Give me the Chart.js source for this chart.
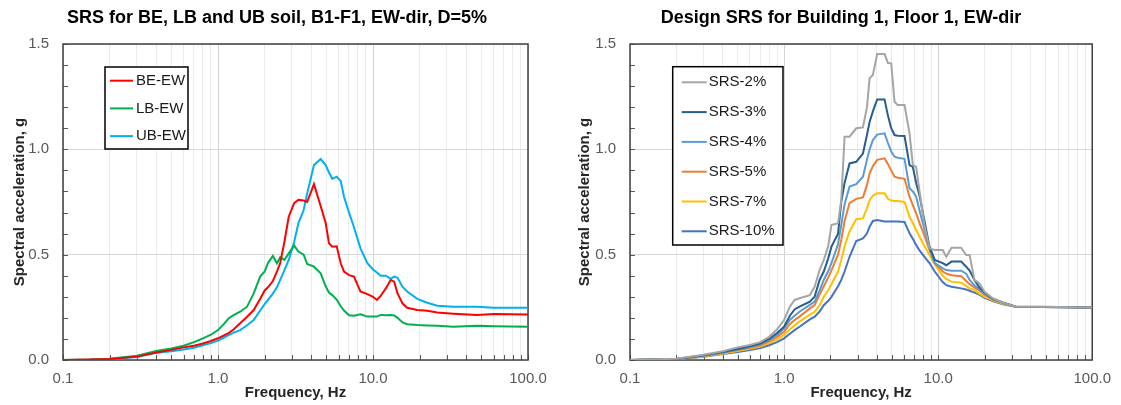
<!DOCTYPE html>
<html>
<head>
<meta charset="utf-8">
<script src="https://cdn.jsdelivr.net/npm/chart.js@4.4.1/dist/chart.umd.min.js"></script>
<style>
  html, body { margin: 0; padding: 0; background: #fff; }
  #wrap { position: relative; width: 1121px; height: 405px; }
  canvas { position: absolute; top: 0; }
  #left { left: 0; }
  #right { left: 560px; }
</style>
</head>
<body>
<div id="wrap">
  <canvas id="left" width="560" height="405"></canvas>
  <canvas id="right" width="561" height="405"></canvas>
</div>
<script>
// --- left chart: BE / LB / UB soil ---
const freqL = [0.1, 0.15, 0.2, 0.3, 0.4, 0.5, 0.6, 0.7, 0.8, 0.9, 1.0, 1.1, 1.17, 1.26, 1.39, 1.54, 1.7, 1.87, 2.0, 2.1,
  2.26, 2.4, 2.52, 2.68, 2.86, 3.1, 3.3, 3.57, 3.76, 4.16, 4.6, 4.95, 5.2, 5.46, 5.83, 6.19, 6.5, 7.0, 7.54, 8.3,
  9.2, 10, 10.6, 11.2, 12.1, 13.0, 13.7, 14.4, 15.5, 16.6, 19.3, 22.4, 26, 33, 47, 60, 100];
const beEW = [0, 0.002, 0.005, 0.016, 0.036, 0.048, 0.06, 0.068, 0.078, 0.09, 0.103, 0.118, 0.128, 0.145, 0.174, 0.205, 0.237, 0.29, 0.33, 0.345,
  0.375, 0.42, 0.46, 0.56, 0.68, 0.745, 0.76, 0.757, 0.75, 0.835, 0.73, 0.65, 0.554, 0.538, 0.54, 0.459, 0.42, 0.403, 0.396, 0.325,
  0.313, 0.30, 0.285, 0.304, 0.34, 0.38, 0.372, 0.316, 0.269, 0.248, 0.237, 0.234, 0.225, 0.22, 0.214, 0.218, 0.216];
const lbEW = [0, 0.002, 0.006, 0.02, 0.043, 0.055, 0.068, 0.085, 0.103, 0.12, 0.142, 0.174, 0.197, 0.213, 0.229, 0.253, 0.316, 0.396, 0.42, 0.46,
  0.494, 0.459, 0.488, 0.475, 0.506, 0.543, 0.515, 0.5, 0.456, 0.443, 0.411, 0.35, 0.32, 0.308, 0.287, 0.255, 0.235, 0.212, 0.21, 0.217,
  0.206, 0.206, 0.206, 0.214, 0.212, 0.214, 0.212, 0.2, 0.178, 0.17, 0.166, 0.164, 0.163, 0.158, 0.162, 0.16, 0.158];
const ubEW = [0, 0.001, 0.004, 0.014, 0.034, 0.042, 0.05, 0.058, 0.07, 0.08, 0.092, 0.108, 0.118, 0.13, 0.142, 0.165, 0.19, 0.235, 0.265, 0.285,
  0.315, 0.345, 0.38, 0.425, 0.475, 0.56, 0.649, 0.712, 0.79, 0.925, 0.954, 0.925, 0.89, 0.86, 0.87, 0.85, 0.775, 0.7, 0.63, 0.53,
  0.46, 0.43, 0.415, 0.4, 0.4, 0.385, 0.396, 0.39, 0.348, 0.325, 0.29, 0.272, 0.258, 0.253, 0.253, 0.248, 0.248];

// --- right chart: design SRS at several damping ratios ---
const freqR = [0.1, 0.2, 0.3, 0.4, 0.5, 0.6, 0.7, 0.8, 0.9, 1.0, 1.09, 1.17, 1.26, 1.47, 1.58, 1.7, 1.81, 1.93, 2.03, 2.24,
  2.35, 2.47, 2.66, 2.94, 3.25, 3.45, 3.59, 3.77, 4.02, 4.49, 4.72, 4.96, 5.21, 5.47, 6.05, 6.52, 6.85, 7.2, 7.57, 8.15,
  8.79, 9.5, 10.7, 11.3, 12.2, 14.1, 15.2, 16.0, 17.2, 18.5, 20, 22.6, 26.3, 32, 47.5, 74.5, 100];
const srs2 = [0, 0.006, 0.025, 0.042, 0.06, 0.071, 0.085, 0.11, 0.145, 0.19, 0.253, 0.285, 0.293, 0.308, 0.348, 0.427, 0.475, 0.538, 0.641, 0.649,
  0.759, 1.06, 1.06, 1.1, 1.104, 1.2, 1.337, 1.353, 1.452, 1.452, 1.41, 1.408, 1.226, 1.21, 1.21, 1.076, 0.925, 0.917, 0.8, 0.64,
  0.53, 0.522, 0.522, 0.49, 0.533, 0.533, 0.498, 0.498, 0.38, 0.364, 0.324, 0.293, 0.272, 0.253, 0.253, 0.25, 0.248];
const srs3 = [0, 0.005, 0.022, 0.038, 0.052, 0.065, 0.078, 0.1, 0.128, 0.158, 0.21, 0.24, 0.253, 0.277, 0.301, 0.38, 0.42, 0.48, 0.538, 0.6,
  0.75, 0.84, 0.933, 0.941, 0.98, 1.068, 1.13, 1.18, 1.237, 1.237, 1.16, 1.1, 1.068, 1.065, 1.063, 0.925, 0.917, 0.84, 0.78, 0.66,
  0.538, 0.475, 0.46, 0.45, 0.467, 0.467, 0.443, 0.425, 0.38, 0.345, 0.32, 0.29, 0.273, 0.253, 0.252, 0.25, 0.248];
const srs4 = [0, 0.005, 0.02, 0.036, 0.05, 0.062, 0.075, 0.095, 0.12, 0.149, 0.19, 0.21, 0.229, 0.262, 0.277, 0.33, 0.38, 0.42, 0.46, 0.55,
  0.64, 0.74, 0.823, 0.835, 0.87, 0.95, 1.0, 1.044, 1.07, 1.076, 1.03, 0.99, 0.965, 0.96, 0.955, 0.815, 0.8, 0.775, 0.71, 0.62,
  0.53, 0.46, 0.435, 0.427, 0.424, 0.424, 0.41, 0.38, 0.355, 0.335, 0.315, 0.29, 0.272, 0.253, 0.252, 0.25, 0.248];
const srs5 = [0, 0.005, 0.019, 0.034, 0.047, 0.058, 0.07, 0.088, 0.11, 0.134, 0.17, 0.19, 0.206, 0.245, 0.261, 0.31, 0.35, 0.39, 0.425, 0.5,
  0.57, 0.66, 0.745, 0.765, 0.772, 0.83, 0.886, 0.92, 0.95, 0.957, 0.93, 0.9, 0.87, 0.865, 0.86, 0.775, 0.735, 0.696, 0.65, 0.59,
  0.522, 0.46, 0.42, 0.41, 0.402, 0.398, 0.375, 0.36, 0.345, 0.33, 0.31, 0.288, 0.27, 0.253, 0.252, 0.25, 0.248];
const srs7 = [0, 0.004, 0.017, 0.031, 0.043, 0.053, 0.064, 0.08, 0.098, 0.119, 0.145, 0.165, 0.182, 0.215, 0.229, 0.26, 0.3, 0.33, 0.36, 0.42,
  0.475, 0.54, 0.61, 0.668, 0.672, 0.72, 0.759, 0.78, 0.791, 0.791, 0.765, 0.757, 0.755, 0.755, 0.75, 0.68, 0.65, 0.617, 0.585, 0.54,
  0.498, 0.455, 0.4, 0.385, 0.372, 0.367, 0.352, 0.34, 0.333, 0.315, 0.3, 0.283, 0.267, 0.253, 0.253, 0.25, 0.248];
const srs10 = [0, 0.004, 0.015, 0.028, 0.038, 0.047, 0.057, 0.07, 0.085, 0.103, 0.125, 0.142, 0.158, 0.193, 0.206, 0.23, 0.26, 0.28, 0.3, 0.35,
  0.38, 0.42, 0.49, 0.565, 0.577, 0.6, 0.633, 0.66, 0.664, 0.657, 0.657, 0.657, 0.657, 0.657, 0.655, 0.601, 0.575, 0.546, 0.52, 0.49,
  0.46, 0.42, 0.37, 0.355, 0.348, 0.34, 0.335, 0.329, 0.32, 0.31, 0.295, 0.28, 0.265, 0.253, 0.252, 0.25, 0.248];

// axis ticks
const xDecades = [0.1, 1, 10, 100];
const yMajor = [0, 0.5, 1.0, 1.5];

const FONT = '"Liberation Sans", Arial, sans-serif';

function pts(f, v) {
  return f.map((x, i) => ({ x: x, y: v[i] }));
}

function isDecade(v) {
  return xDecades.some(d => Math.abs(v - d) < d * 1e-6);
}

function isMajorY(v) {
  return yMajor.some(m => Math.abs(v - m) < 1e-6);
}

// border box + little inside tick marks, under the curves
const framePlugin = {
  id: 'frame',
  beforeDatasetsDraw(chart) {
    const { ctx, chartArea: a, scales } = chart;
    ctx.save();
    ctx.strokeStyle = '#595959';
    ctx.lineWidth = 1;
    ctx.beginPath();
    scales.x.ticks.forEach(t => {
      const px = Math.round(scales.x.getPixelForValue(t.value)) + 0.5;
      ctx.moveTo(px, a.bottom);
      ctx.lineTo(px, a.bottom - 5);
    });
    scales.y.ticks.forEach(t => {
      const py = Math.round(scales.y.getPixelForValue(t.value)) + 0.5;
      ctx.moveTo(a.left, py);
      ctx.lineTo(a.left + 5, py);
    });
    ctx.stroke();
    ctx.strokeStyle = '#404040';
    ctx.lineWidth = 1.5;
    ctx.strokeRect(a.left, a.top, a.right - a.left, a.bottom - a.top);
    ctx.restore();
  }
};

// boxed legend inside the plot + chart title
const boxLegend = {
  id: 'boxLegend',
  afterDraw(chart, args, o) {
    const ctx = chart.ctx, a = chart.chartArea;
    const x0 = a.left + o.dx, y0 = a.top + o.dy;
    ctx.save();
    ctx.fillStyle = '#fff';
    ctx.fillRect(x0, y0, o.w, o.h);
    ctx.strokeStyle = '#000';
    ctx.lineWidth = 1.5;
    ctx.strokeRect(x0, y0, o.w, o.h);
    ctx.font = '15px ' + FONT;
    ctx.textBaseline = 'middle';
    chart.data.datasets.forEach((ds, i) => {
      const y = y0 + o.first + i * o.gap;
      ctx.strokeStyle = ds.borderColor;
      ctx.lineWidth = ds.borderWidth;
      ctx.beginPath();
      ctx.moveTo(x0 + o.lx0, y);
      ctx.lineTo(x0 + o.lx1, y);
      ctx.stroke();
      ctx.fillStyle = '#1a1a1a';
      ctx.fillText(ds.label, x0 + o.tx, y);
    });
    // title
    ctx.font = 'bold 18px ' + FONT;
    ctx.textAlign = 'center';
    ctx.fillStyle = '#000';
    ctx.fillText(o.title, o.titleX, 18);
    ctx.restore();
  }
};

function makeChart(id, freq, series, cfg) {
  return new Chart(document.getElementById(id), {
    type: 'line',
    data: {
      datasets: series.map(s => ({
        label: s.label,
        data: pts(freq, s.values),
        borderColor: s.color,
        borderWidth: 2,
        pointRadius: 0,
        tension: 0,
        fill: false
      }))
    },
    options: {
      responsive: false,
      animation: false,
      layout: { padding: { left: cfg.padLeft, right: cfg.padRight, top: 44, bottom: 0 } },
      plugins: {
        legend: { display: false },
        tooltip: { enabled: false },
        boxLegend: cfg.legend
      },
      scales: {
        x: {
          type: 'logarithmic',
          min: 0.1,
          max: 100,
          afterBuildTicks(scale) {
            const t = [];
            xDecades.forEach(d => {
              if (d >= 100) { t.push({ value: d }); return; }
              for (let k = 1; k <= 9; k++) t.push({ value: d * k });
            });
            scale.ticks = t;
          },
          afterFit(scale) { scale.height = 45; },
          ticks: {
            autoSkip: false,
            maxRotation: 0,
            padding: 10,
            color: '#595959',
            font: { size: 15, family: FONT },
            callback: v => isDecade(v) ? v.toFixed(1) : ''
          },
          grid: {
            drawTicks: false,
            color: c => (c.tick && isDecade(c.tick.value)) ? '#d4d4d4' : '#ebebeb',
            lineWidth: 1
          },
          border: { display: false },
          title: {
            display: true,
            text: 'Frequency, Hz',
            color: '#262626',
            font: { size: 15, weight: 'bold', family: FONT },
            padding: { top: 0, bottom: 3 }
          }
        },
        y: {
          type: 'linear',
          min: 0,
          max: 1.5,
          afterFit(scale) { scale.width = cfg.yWidth; },
          ticks: {
            stepSize: 0.1,
            autoSkip: false,
            padding: 14,
            color: '#595959',
            font: { size: 15, family: FONT },
            callback: v => isMajorY(v) ? v.toFixed(1) : ''
          },
          grid: {
            drawTicks: false,
            color: c => (c.tick && isMajorY(c.tick.value)) ? '#d9d9d9' : 'rgba(0,0,0,0)',
            lineWidth: 1
          },
          border: { display: false },
          title: {
            display: true,
            text: 'Spectral acceleration, g',
            color: '#262626',
            font: { size: 15, weight: 'bold', family: FONT },
            padding: { top: 11, bottom: 0 }
          }
        }
      }
    },
    plugins: [framePlugin, boxLegend]
  });
}

makeChart('left', freqL, [
  { label: 'BE-EW', values: beEW, color: '#ff0000' },
  { label: 'LB-EW', values: lbEW, color: '#00b050' },
  { label: 'UB-EW', values: ubEW, color: '#00b0f0' }
], {
  padLeft: 0, padRight: 32, yWidth: 63,
  legend: { dx: 42, dy: 23, w: 83, h: 82, first: 13.7, gap: 27.7, lx0: 5, lx1: 28, tx: 31,
    title: 'SRS for BE, LB and UB soil, B1-F1, EW-dir, D=5%', titleX: 277 }
});

makeChart('right', freqR, [
  { label: 'SRS-2%', values: srs2, color: '#a5a5a5' },
  { label: 'SRS-3%', values: srs3, color: '#255e91' },
  { label: 'SRS-4%', values: srs4, color: '#5b9bd5' },
  { label: 'SRS-5%', values: srs5, color: '#ed7d31' },
  { label: 'SRS-7%', values: srs7, color: '#ffc000' },
  { label: 'SRS-10%', values: srs10, color: '#4472c4' }
], {
  padLeft: 5, padRight: 28, yWidth: 65,
  legend: { dx: 42.7, dy: 22.7, w: 110.3, h: 178.3, first: 15.6, gap: 29.8, lx0: 9, lx1: 34, tx: 36,
    title: 'Design SRS for Building 1, Floor 1, EW-dir', titleX: 281 }
});
</script>
</body>
</html>
